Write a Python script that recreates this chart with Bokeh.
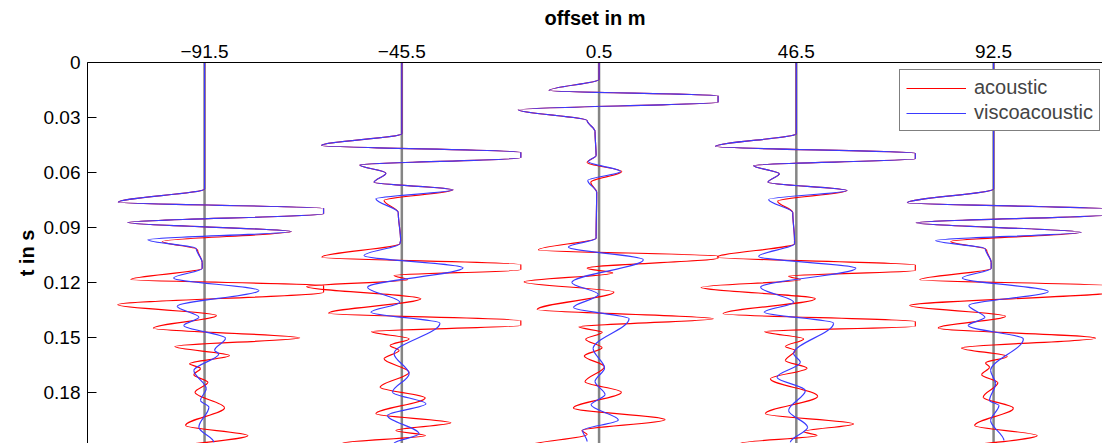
import numpy as np
from bokeh.plotting import figure
from bokeh.models import (Range1d, FixedTicker, Span, Legend, LegendItem, ColumnDataSource)
from bokeh.embed import file_html
from bokeh.resources import INLINE

# ---------------- data ----------------
OFFSETS = [-91.5, -45.5, 0.5, 46.5, 92.5]
OFFSET_LABELS = ["\u221291.5", "\u221245.5", "0.5", "46.5", "92.5"]
T_TICKS = [0.0, 0.03, 0.06, 0.09, 0.12, 0.15, 0.18]
T_TICK_LABELS = ["0", "0.03", "0.06", "0.09", "0.12", "0.15", "0.18"]
GAIN = 27.75  # metres of offset per unit trace amplitude (traces clipped at 1)

# acoustic (red) traces: time in ms, normalised amplitude at turning points
AC1_T = [0, 69.0, 76.3, 79.6, 82.6, 87.4, 92.3, 97.7, 102.1, 109.2, 112.5, 118.5, 121.7, 125.4, 132.3,
         138.1, 145.1, 150.3, 155.1, 160.0, 164.5, 167.0, 170.5, 174.6, 180.0, 188.5, 198.2, 203.7, 210.8]
AC1_A = [0, 0, -0.725, 1.0, 1.0, -0.645, 0.729, -0.355, -0.06, -0.02, -0.02, -0.62, 1.0, 1.0, -0.73,
         0.10, -0.43, 0.80, -0.25, 0.21, -0.126, -0.034, -0.09, 0.028, -0.08, 0.168, -0.16, 0.364, -0.30]
AC2_T = [0, 38.9, 45.3, 49.0, 52.0, 55.9, 60.4, 65.4, 69.5, 75.3, 81.9, 97.2, 98.8, 106.3, 110.3, 113.2,
         116.3, 118.6, 122.3, 129.0, 136.9, 140.9, 143.6, 146.9, 150.9, 154.5, 157.2, 161.8, 169.1, 177.3,
         183.1, 191.8, 196.7, 200.9, 203.7, 207.9]
AC2_A = [0, 0, -0.675, 1.0, 1.0, -0.353, -0.134, -0.233, 0.431, -0.149, -0.03, -0.01, -0.015, -0.672, 1.0, 1.0,
         -0.065, 0.048, -0.80, 0.16, -0.616, 1.0, 1.0, -0.255, 0.061, -0.098, -0.023, -0.149, 0.061, -0.182,
         0.196, -0.218, 0.412, -0.05, 0.20, -0.50]
AC3_T = [0, 9.3, 15.3, 18.2, 21.7, 25.8, 31.7, 37.7, 50.8, 54.6, 59.5, 65.4, 70.9, 95.0, 95.9, 102.3, 105.7,
         106.7, 112.3, 114.9, 119.8, 125.3, 134.9, 139.9, 144.3, 147.3, 151.1, 155.7, 160.2, 166.1, 174.3,
         180.0, 188.6, 195.0, 200.9, 203.1, 209.1]
AC3_A = [0, 0, -0.42, 1.0, 1.0, -0.68, -0.10, -0.034, -0.025, -0.10, 0.19, -0.07, -0.02, -0.025, -0.025, -0.51,
         1.0, 1.0, -0.10, 0.115, -0.63, 0.125, -0.52, 0.96, -0.17, 0.027, -0.113, 0.025, -0.124, 0.045, -0.118,
         0.188, -0.216, 0.555, -0.145, -0.10, -0.59]
AC4_T = [0, 38.9, 45.9, 49.5, 52.6, 56.2, 60.8, 65.4, 69.9, 75.7, 81.9, 97.2, 99.0, 106.3, 110.5, 113.6,
         116.7, 118.6, 122.7, 129.0, 137.2, 141.4, 144.0, 146.9, 150.9, 155.1, 157.2, 162.7, 166.9, 172.7,
         182.2, 191.8, 197.3, 201.5, 203.7, 207.9]
AC4_A = [0, 0, -0.68, 1.0, 1.0, -0.359, -0.143, -0.238, 0.426, -0.157, -0.03, -0.015, -0.015, -0.666, 1.0, 1.0,
         -0.065, 0.034, -0.80, 0.16, -0.616, 1.0, 1.0, -0.266, 0.061, -0.092, -0.01, -0.092, 0.09, -0.218,
         0.179, -0.26, 0.48, 0.061, 0.174, -0.47]
AC5_T = [0, 69.0, 76.6, 80.0, 83.0, 87.5, 92.7, 97.7, 102.1, 109.2, 112.5, 118.6, 121.9, 125.3, 132.7,
         138.5, 144.9, 150.5, 155.8, 160.5, 164.0, 166.4, 170.4, 174.9, 182.7, 188.7, 198.2, 203.7, 210.8]
AC5_A = [0, 0, -0.725, 1.0, 1.0, -0.65, 0.737, -0.36, -0.06, -0.02, -0.02, -0.62, 1.0, 1.0, -0.706,
         0.10, -0.465, 0.857, -0.27, 0.115, -0.067, -0.034, -0.10, 0.036, -0.087, 0.166, -0.16, 0.367, -0.30]

# viscoacoustic (blue) traces
VI1_T = [0, 69.0, 76.3, 79.6, 82.6, 87.4, 92.3, 96.8, 101.6, 109.2, 112.5, 117.6, 124.5, 133.1, 139.1,
         143.6, 150.5, 157.2, 159.0, 168.2, 178.0, 184.5, 188.2, 199.1, 207.3]
VI1_A = [0, 0, -0.725, 1.0, 1.0, -0.645, 0.729, -0.476, -0.07, -0.02, -0.02, -0.26, 0.456, -0.23, -0.048,
         -0.174, 0.176, 0.084, 0.12, -0.09, 0.014, -0.034, 0.036, -0.048, 0.078]
VI2_T = [0, 38.9, 45.3, 49.0, 52.0, 55.9, 60.4, 65.4, 69.5, 74.4, 81.9, 97.2, 98.8, 105.4, 112.1, 122.7,
         130.9, 136.3, 142.3, 159.0, 170.0, 180.0, 186.3, 192.7, 202.7, 207.9]
VI2_A = [0, 0, -0.675, 1.0, 1.0, -0.353, -0.134, -0.233, 0.431, -0.218, -0.03, -0.01, -0.015, -0.317, 0.515, -0.288,
         -0.017, -0.26, 0.32, -0.065, 0.061, -0.078, 0.202, -0.12, 0.145, -0.065]
VI3_T = [0, 9.3, 15.3, 18.2, 21.7, 25.8, 31.7, 37.7, 50.8, 54.1, 59.5, 64.4, 70.9, 95.9, 100.7, 107.7,
         120.1, 126.7, 133.8, 139.9, 156.2, 166.8, 174.2, 181.3, 186.9, 195.2, 200.9, 206.9]
VI3_A = [0, 0, -0.42, 1.0, 1.0, -0.68, -0.10, -0.034, -0.025, -0.09, 0.18, -0.095, -0.02, -0.025, -0.258, 0.372,
         -0.229, -0.006, -0.216, 0.252, -0.05, 0.046, -0.034, 0.05, -0.067, 0.162, -0.139, -0.10]
VI4_T = [0, 38.9, 45.9, 49.5, 52.6, 56.2, 60.8, 65.4, 69.9, 74.8, 81.9, 97.2, 99.0, 105.9, 112.3, 122.7,
         130.9, 136.3, 142.3, 158.9, 163.7, 171.8, 179.1, 190.0, 199.1, 207.3]
VI4_A = [0, 0, -0.68, 1.0, 1.0, -0.359, -0.143, -0.238, 0.426, -0.233, -0.03, -0.015, -0.015, -0.317, 0.50, -0.30,
         -0.023, -0.27, 0.313, -0.023, 0.034, -0.162, 0.076, -0.065, 0.095, -0.05]
VI5_T = [0, 69.0, 76.6, 80.0, 83.0, 87.5, 92.7, 97.2, 101.6, 109.2, 112.5, 117.6, 125.0, 132.7, 139.1,
         143.6, 150.9, 168.2, 175.3, 184.5, 187.3, 195.5, 206.4]
VI5_A = [0, 0, -0.725, 1.0, 1.0, -0.65, 0.737, -0.487, -0.07, -0.02, -0.02, -0.263, 0.46, -0.208, -0.073,
         -0.213, 0.25, -0.025, 0.017, -0.034, 0.045, -0.025, 0.087]

ACOUSTIC = [(AC1_T, AC1_A), (AC2_T, AC2_A), (AC3_T, AC3_A), (AC4_T, AC4_A), (AC5_T, AC5_A)]
VISCO = [(VI1_T, VI1_A), (VI2_T, VI2_A), (VI3_T, VI3_A), (VI4_T, VI4_A), (VI5_T, VI5_A)]


def trace_source(traces):
    cols = {k: [] for k in ("x0", "y0", "x1", "y1", "cx0", "cy0", "cx1", "cy1")}
    for off, (tms, amp) in zip(OFFSETS, traces):
        t = np.asarray(tms, float) / 1000.0
        x = off + GAIN * np.asarray(amp, float)
        dt = t[1:] - t[:-1]
        cols["x0"] += list(x[:-1]); cols["y0"] += list(t[:-1])
        cols["x1"] += list(x[1:]); cols["y1"] += list(t[1:])
        cols["cx0"] += list(x[:-1]); cols["cy0"] += list(t[:-1] + dt / 3)
        cols["cx1"] += list(x[1:]); cols["cy1"] += list(t[1:] - dt / 3)
    return ColumnDataSource(cols)


FONT = "Liberation Sans"

p = figure(width=1102, height=443,
           x_range=Range1d(-118.8, 117.9), y_range=Range1d(0.208, 0.0),
           x_axis_location="above", output_backend="svg", toolbar_location=None,
           min_border_left=87, min_border_right=0, min_border_top=62, min_border_bottom=0)
p.outline_line_color = None
p.grid.visible = False
p.background_fill_color = "white"
p.border_fill_color = "white"

# axes
xa = p.xaxis[0]
xa.ticker = FixedTicker(ticks=OFFSETS)
xa.major_label_overrides = dict(zip(OFFSETS, OFFSET_LABELS))
xa.major_tick_in = 0
xa.major_tick_out = 0
xa.minor_tick_in = 0
xa.minor_tick_out = 0
xa.major_label_standoff = 5
xa.major_label_text_font = FONT
xa.major_label_text_font_size = "19px"
xa.major_label_text_color = "black"
xa.axis_line_color = "black"
xa.axis_label = "offset in m"
xa.axis_label_text_font = FONT
xa.axis_label_text_font_size = "20px"
xa.axis_label_text_font_style = "bold"
xa.axis_label_text_color = "black"
xa.axis_label_standoff = 13

ya = p.yaxis[0]
ya.ticker = FixedTicker(ticks=T_TICKS)
ya.major_label_overrides = dict(zip(T_TICKS, T_TICK_LABELS))
ya.major_tick_in = 9
ya.major_tick_out = 0
ya.minor_tick_in = 0
ya.minor_tick_out = 0
ya.major_tick_line_color = "black"
ya.major_label_standoff = 7
ya.major_label_text_font = FONT
ya.major_label_text_font_size = "19px"
ya.major_label_text_color = "black"
ya.axis_line_color = "black"
ya.axis_label = "t in s"
ya.axis_label_text_font = FONT
ya.axis_label_text_font_size = "20px"
ya.axis_label_text_font_style = "bold"
ya.axis_label_text_color = "black"
ya.axis_label_standoff = 3

# zero lines of each trace
for off in OFFSETS:
    p.add_layout(Span(location=off, dimension="height", line_color="#858585",
                      line_width=2.5, level="underlay"))

# traces
r_ac = p.bezier(x0="x0", y0="y0", x1="x1", y1="y1", cx0="cx0", cy0="cy0", cx1="cx1", cy1="cy1",
                source=trace_source(ACOUSTIC), line_color="#ff0000", line_width=1.2)
r_vi = p.bezier(x0="x0", y0="y0", x1="x1", y1="y1", cx0="cx0", cy0="cy0", cx1="cx1", cy1="cy1",
                source=trace_source(VISCO), line_color="#3a3aff", line_width=1.2)

legend = Legend(items=[LegendItem(label="acoustic", renderers=[r_ac], index=0),
                       LegendItem(label="viscoacoustic", renderers=[r_vi], index=0)],
                location=(812, 312), padding=6, spacing=2, margin=0,
                glyph_width=60, glyph_height=18, label_standoff=8,
                label_text_font=FONT, label_text_font_size="20px",
                border_line_color="black", border_line_width=1,
                background_fill_color="white", background_fill_alpha=1.0)
p.add_layout(legend)

open("out.html", "w").write(file_html(p, INLINE))
